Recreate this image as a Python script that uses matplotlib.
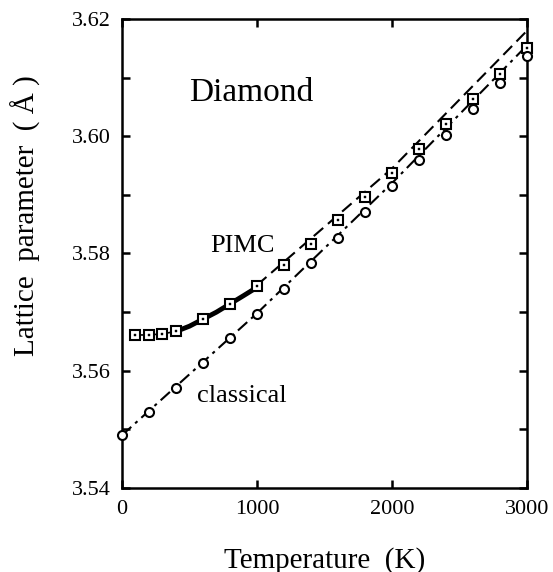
import numpy as np
import matplotlib.pyplot as plt

plt.rcParams['font.family'] = ['Liberation Serif', 'DejaVu Serif']

# PIMC lattice parameter (squares)
T_pimc = [100, 200, 300, 400, 600, 800, 1000, 1200, 1400, 1600, 1800,
          2000, 2200, 2400, 2600, 2800, 3000]
a_pimc = [3.5661, 3.5661, 3.5663, 3.5667, 3.5688, 3.5714, 3.5745, 3.5780,
          3.5816, 3.5857, 3.5897, 3.5938, 3.5979, 3.6021, 3.6063, 3.6106, 3.6150]

# classical MC lattice parameter (circles)
T_cl = [0, 200, 400, 600, 800, 1000, 1200, 1400, 1600, 1800, 2000,
        2200, 2400, 2600, 2800, 3000]
a_cl = [3.5490, 3.5530, 3.5571, 3.5613, 3.5655, 3.5697, 3.5740, 3.5783,
        3.5826, 3.5871, 3.5915, 3.5959, 3.6002, 3.6047, 3.6091, 3.6137]

# low temperature fit (thick) and high temperature fits
T_lowfit = [400, 500, 600, 700, 800, 900, 970]
a_lowfit = [3.5667, 3.5676, 3.5688, 3.5700, 3.5714, 3.5728, 3.5738]
T_pfit = [1000, 2000, 3000]
a_pfit = [3.5746, 3.5945, 3.6180]
T_cfit = [0, 1000, 2000, 3000]
a_cfit = [3.5490, 3.5698, 3.5920, 3.6155]

fig = plt.figure(figsize=(5.53, 5.72), dpi=100)
ax = fig.add_axes([0.2206, 0.1469, 0.7324, 0.8199])

ax.plot(T_lowfit, a_lowfit, '-', color='black', lw=3.5, solid_capstyle='round')
ax.plot(T_pimc[:7], a_pimc[:7], '-', color='black', lw=1.2)
ax.plot(T_pfit, a_pfit, color='black', lw=1.5, dashes=(6, 3))
ax.plot(T_cfit, a_cfit, color='black', lw=1.5, dashes=(6, 2.5, 1.5, 2.5))

ax.plot(T_pimc, a_pimc, 's', ms=6.5, mfc='white', mec='black', mew=1.5,
        linestyle='none', zorder=5, clip_on=False)
ax.plot(T_pimc, a_pimc, 's', ms=1.6, mfc='black', mec='black', mew=0.3,
        linestyle='none', zorder=6, clip_on=False)
ax.plot(T_cl, a_cl, 'o', ms=6.5, mfc='white', mec='black', mew=1.5,
        linestyle='none', zorder=5, clip_on=False)

ax.set_xlim(0, 3000)
ax.set_ylim(3.54, 3.62)
ax.set_xticks([0, 1000, 2000, 3000])
ax.set_yticks([3.54, 3.56, 3.58, 3.60, 3.62])
ax.set_yticks(np.arange(3.55, 3.62, 0.02), minor=True)
ax.set_yticklabels(['3.54', '3.56', '3.58', '3.60', '3.62'])

ax.tick_params(which='both', direction='in', top=True, right=True,
               labelsize=16, width=1.8, length=6, pad=8)
ax.tick_params(axis='x', pad=9)
for s in ax.spines.values():
    s.set_linewidth(1.8)

ax.set_xlabel('Temperature  (K)', fontsize=21)
ax.set_ylabel('Lattice  parameter  ( Å )', fontsize=21)
ax.xaxis.set_label_coords(0.5, -0.125)
ax.yaxis.set_label_coords(-0.2, 0.58)

ax.text(960, 3.6075, 'Diamond', fontsize=24, ha='center', va='center')
ax.text(893, 3.5813, 'PIMC', fontsize=19, ha='center', va='center')
ax.text(889, 3.5557, 'classical', fontsize=19, ha='center', va='center')

fig.savefig('out.png', dpi=100)
